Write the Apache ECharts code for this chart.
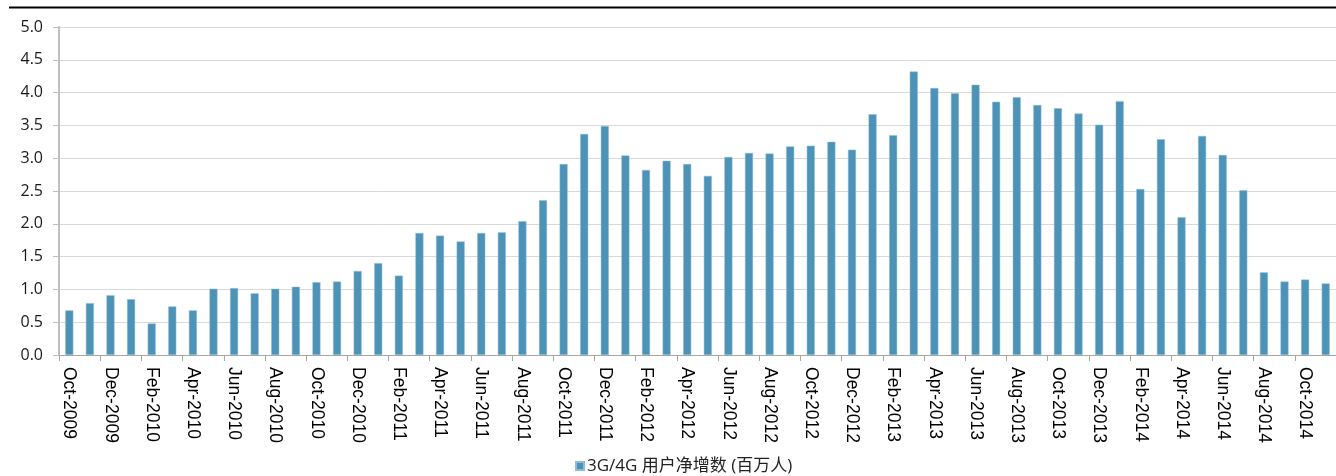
<!DOCTYPE html>
<html>
<head>
<meta charset="utf-8">
<script src="https://cdn.jsdelivr.net/npm/echarts@6/dist/echarts.min.js"></script>
<style>
html,body{margin:0;padding:0;background:#fff;}
#chart{width:1336px;height:476px;}
</style>
</head>
<body>
<div id="chart"></div>
<script>
const categories = [
  "Oct-2009","Nov-2009","Dec-2009",
  "Jan-2010","Feb-2010","Mar-2010","Apr-2010","May-2010","Jun-2010","Jul-2010","Aug-2010","Sep-2010","Oct-2010","Nov-2010","Dec-2010",
  "Jan-2011","Feb-2011","Mar-2011","Apr-2011","May-2011","Jun-2011","Jul-2011","Aug-2011","Sep-2011","Oct-2011","Nov-2011","Dec-2011",
  "Jan-2012","Feb-2012","Mar-2012","Apr-2012","May-2012","Jun-2012","Jul-2012","Aug-2012","Sep-2012","Oct-2012","Nov-2012","Dec-2012",
  "Jan-2013","Feb-2013","Mar-2013","Apr-2013","May-2013","Jun-2013","Jul-2013","Aug-2013","Sep-2013","Oct-2013","Nov-2013","Dec-2013",
  "Jan-2014","Feb-2014","Mar-2014","Apr-2014","May-2014","Jun-2014","Jul-2014","Aug-2014","Sep-2014","Oct-2014","Nov-2014"
];
const netAdds = [
  0.68,0.79,0.91,
  0.85,0.48,0.74,0.68,1.01,1.02,0.94,1.01,1.04,1.11,1.12,1.28,
  1.40,1.21,1.86,1.82,1.73,1.86,1.87,2.04,2.36,2.91,3.37,3.49,
  3.04,2.82,2.96,2.91,2.73,3.02,3.08,3.07,3.18,3.19,3.25,3.13,
  3.67,3.35,4.32,4.07,3.99,4.12,3.86,3.93,3.81,3.76,3.68,3.51,
  3.87,2.53,3.29,2.10,3.34,3.05,2.51,1.26,1.12,1.15,1.09
];
const seriesName = "3G/4G 用户净增数 (百万人)";
const yMin = 0, yMax = 5, yStep = 0.5;

const chart = echarts.init(document.getElementById('chart'));
chart.setOption({
  animation: false,
  backgroundColor: '#ffffff',
  graphic: [{
    type: 'line',
    shape: { x1: 9, y1: 7.5, x2: 1336, y2: 7.5 },
    style: { stroke: '#000000', lineWidth: 2 }
  }],
  grid: { left: 59, right: 0, top: 27, bottom: 121, containLabel: false },
  legend: {
    left: 575, top: 456, padding: 0,
    icon: 'rect', itemWidth: 8, itemHeight: 8, itemGap: 10,
    textStyle: { fontFamily: '"Open Sans","Noto Sans CJK SC",sans-serif', fontSize: 17, lineHeight: 20, color: '#222', padding: [0, 0, 0, -2] },
    data: [seriesName]
  },
  xAxis: {
    type: 'category',
    data: categories,
    boundaryGap: true,
    axisLine: { show: true, lineStyle: { color: '#a6a6a6', width: 1 } },
    axisTick: { show: true, interval: 1, length: 6, lineStyle: { color: '#a6a6a6' } },
    axisLabel: {
      interval: 1, rotate: -90, margin: 12,
      fontFamily: '"Liberation Sans",Arial,sans-serif', fontSize: 17.5, color: '#000'
    },
    splitLine: { show: false }
  },
  yAxis: {
    type: 'value',
    min: yMin, max: yMax, interval: yStep,
    axisLine: { show: true, lineStyle: { color: '#bfbfbf', width: 2 } },
    axisTick: { show: true, length: 6, lineStyle: { color: '#bfbfbf' } },
    axisLabel: {
      margin: 16,
      formatter: v => v.toFixed(1),
      fontFamily: '"Open Sans","Noto Sans",sans-serif', fontSize: 16, color: '#1a1a1a'
    },
    splitLine: { show: true, lineStyle: { color: '#d9d9d9', width: 1 } }
  },
  series: [{
    name: seriesName,
    type: 'bar',
    data: netAdds,
    barWidth: 8,
    itemStyle: { color: '#4d92b7', borderColor: '#8fbcd6', borderWidth: 0.5 }
  }]
});
</script>
</body>
</html>
